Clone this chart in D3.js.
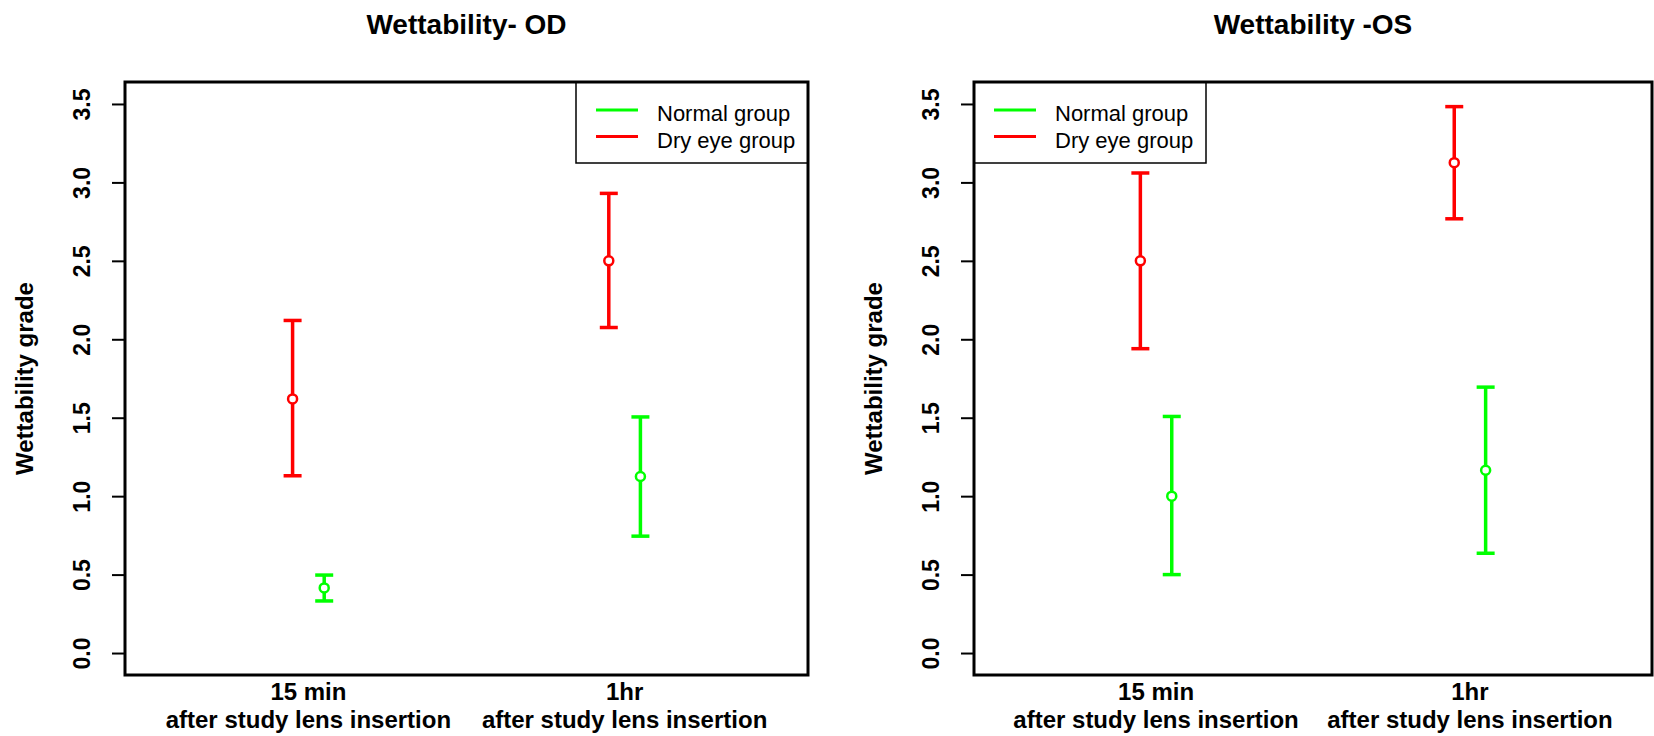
<!DOCTYPE html>
<html>
<head>
<meta charset="utf-8">
<script src="https://cdn.jsdelivr.net/npm/d3@7"></script>
<style>
  html, body { margin: 0; padding: 0; background: #fff; }
  svg { display: block; font-family: "Liberation Sans", Arial, Helvetica, sans-serif; }
</style>
</head>
<body>
<svg id="chart" width="1654" height="736"></svg>
<script>
// Wettability grade, mean with error bars, per eye and time point
const categories = ["15 min", "1hr"];
const categorySub = "after study lens insertion";
const groups = ["Normal group", "Dry eye group"];
const yTicks = [0, 0.5, 1, 1.5, 2, 2.5, 3, 3.5];

// Right eye (OD)
const odNormalMean  = [0.415, 1.125];
const odNormalLower = [0.332, 0.745];
const odNormalUpper = [0.497, 1.505];
const odDryMean     = [1.62, 2.50];
const odDryLower    = [1.13, 2.075];
const odDryUpper    = [2.12, 2.93];

// Left eye (OS)
const osNormalMean  = [1.0, 1.165];
const osNormalLower = [0.50, 0.636];
const osNormalUpper = [1.508, 1.695];
const osDryMean     = [2.50, 3.126];
const osDryLower    = [1.94, 2.768];
const osDryUpper    = [3.06, 3.483];

const colors = { "Normal group": "#00ff00", "Dry eye group": "#ff0000" };
const offsets = { "Normal group": 0.05, "Dry eye group": -0.05 };

const panels = [
  {
    title: "Wettability- OD",
    left: 125, right: 808, legend: "right",
    series: [
      { name: "Dry eye group", mean: odDryMean, lower: odDryLower, upper: odDryUpper },
      { name: "Normal group", mean: odNormalMean, lower: odNormalLower, upper: odNormalUpper }
    ]
  },
  {
    title: "Wettability -OS",
    left: 974, right: 1652, legend: "left",
    series: [
      { name: "Dry eye group", mean: osDryMean, lower: osDryLower, upper: osDryUpper },
      { name: "Normal group", mean: osNormalMean, lower: osNormalLower, upper: osNormalUpper }
    ]
  }
];

const plotTop = 82, plotBottom = 675;
const svg = d3.select("#chart");

panels.forEach(p => {
  const g = svg.append("g");
  const x = d3.scaleLinear().domain([0.42, 2.58]).range([p.left, p.right]);
  const y = d3.scaleLinear().domain([-0.14, 3.64]).range([plotBottom, plotTop]);

  // title
  g.append("text")
    .attr("x", (p.left + p.right) / 2).attr("y", 34)
    .attr("text-anchor", "middle")
    .attr("font-size", 28).attr("font-weight", "bold")
    .text(p.title);

  // y axis with rotated labels
  const yAxis = g.append("g")
    .attr("transform", `translate(${p.left},0)`)
    .call(d3.axisLeft(y).tickValues(yTicks).tickSize(13).tickPadding(0).tickFormat(d3.format(".1f")));
  yAxis.select(".domain").remove();
  yAxis.selectAll(".tick line").attr("stroke", "#000").attr("stroke-width", 2);
  yAxis.selectAll(".tick text")
    .attr("x", null).attr("dy", null)
    .attr("text-anchor", "middle")
    .attr("font-size", 23).attr("font-weight", "bold")
    .attr("font-family", "'Liberation Sans', Arial, sans-serif")
    .attr("fill", "#000")
    .attr("transform", "translate(-35,0) rotate(-90)");

  // y axis title
  g.append("text")
    .attr("transform", `translate(${p.left - 92},${(plotTop + plotBottom) / 2}) rotate(-90)`)
    .attr("text-anchor", "middle")
    .attr("font-size", 24).attr("font-weight", "bold")
    .text("Wettability grade");

  // category labels
  categories.forEach((c, i) => {
    const cx = x(i + 1);
    g.append("text").attr("x", cx).attr("y", 700)
      .attr("text-anchor", "middle").attr("font-size", 24).attr("font-weight", "bold")
      .text(c);
    g.append("text").attr("x", cx).attr("y", 728)
      .attr("text-anchor", "middle").attr("font-size", 24).attr("font-weight", "bold")
      .text(categorySub);
  });

  // error bars
  const r = 4.5, cap = 9;
  p.series.forEach(s => {
    const col = colors[s.name];
    const sg = g.append("g").attr("stroke", col).attr("stroke-width", 3.5).attr("fill", "none");
    s.mean.forEach((m, i) => {
      const cx = x(i + 1 + offsets[s.name]);
      const ym = y(m), yl = y(s.lower[i]), yu = y(s.upper[i]);
      sg.append("line").attr("x1", cx).attr("x2", cx).attr("y1", yu).attr("y2", ym - r);
      sg.append("line").attr("x1", cx).attr("x2", cx).attr("y1", ym + r).attr("y2", yl);
      sg.append("line").attr("x1", cx - cap).attr("x2", cx + cap).attr("y1", yu).attr("y2", yu);
      sg.append("line").attr("x1", cx - cap).attr("x2", cx + cap).attr("y1", yl).attr("y2", yl);
      sg.append("circle").attr("cx", cx).attr("cy", ym).attr("r", r)
        .attr("stroke-width", 2.5).attr("fill", "#fff");
    });
  });

  // legend
  const lw = 232, lh = 81;
  const lx = p.legend === "right" ? p.right - lw : p.left;
  const lg = g.append("g").attr("transform", `translate(${lx},${plotTop})`);
  lg.append("rect").attr("width", lw).attr("height", lh)
    .attr("fill", "#fff").attr("stroke", "#000").attr("stroke-width", 1.5);
  groups.forEach((name, i) => {
    const ly = 28 + i * 26.5;
    lg.append("line").attr("x1", 20).attr("x2", 62).attr("y1", ly).attr("y2", ly)
      .attr("stroke", colors[name]).attr("stroke-width", 3);
    lg.append("text").attr("x", 81).attr("y", ly + 11)
      .attr("font-size", 22).text(name);
  });

  // plot frame
  g.append("rect")
    .attr("x", p.left).attr("y", plotTop)
    .attr("width", p.right - p.left).attr("height", plotBottom - plotTop)
    .attr("fill", "none").attr("stroke", "#000").attr("stroke-width", 3);
});
</script>
</body>
</html>
